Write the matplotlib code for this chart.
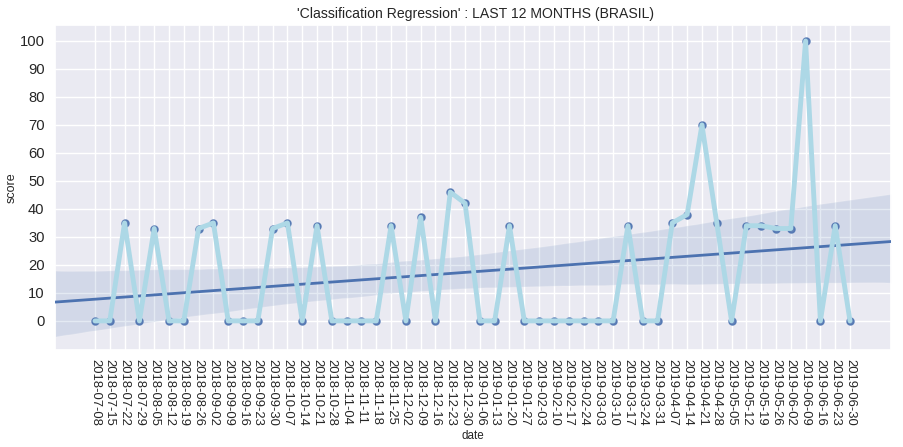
import matplotlib
matplotlib.use("Agg")
import matplotlib.pyplot as plt
import numpy as np
import pandas as pd
import seaborn as sns

dates = pd.date_range("2018-07-08", "2019-06-30", freq="7D").strftime("%Y-%m-%d").tolist()
scores = [0, 0, 35, 0, 33, 0, 0, 33, 35, 0, 0, 0, 33, 35, 0, 34, 0, 0, 0, 0, 34, 0, 37, 0,
          46, 42, 0, 0, 34, 0, 0, 0, 0, 0, 0, 0, 34, 0, 0, 35, 38, 70, 35, 0, 34, 34, 33, 33,
          100, 0, 34, 0]
yticks = list(range(0, 101, 10))

sns.set_theme(style="darkgrid")
plt.rcParams["font.family"] = ["Liberation Sans", "DejaVu Sans"]

positions = np.arange(len(dates))
fig = plt.figure(figsize=(9.04, 4.47), dpi=100, facecolor="white")
ax = fig.add_axes([55 / 904, 1 - 350 / 447, (891 - 55) / 904, (350 - 25) / 447])
ax.set_xlim(-2.7, 53.77)
ax.set_ylim(-10.4, 105.7)

sns.regplot(x=positions, y=np.array(scores, dtype=float), ax=ax, truncate=False, seed=3,
            color="#4c72b0", scatter_kws={"s": 26, "alpha": 0.85, "zorder": 2},
            line_kws={"lw": 2.0, "zorder": 3})
ax.plot(positions, scores, color="lightblue", lw=3.5, zorder=4)

ax.set_xlim(-2.7, 53.77)
ax.set_ylim(-10.4, 105.7)
ax.set_xticks(positions)
ax.set_xticklabels(dates, rotation=270, fontsize=9.4, color="#262626")
ax.set_yticks(yticks)
ax.tick_params(axis="y", labelsize=10.6, labelcolor="#262626", pad=1.5)
ax.tick_params(axis="x", pad=0.5)
ax.set_xlabel("date", fontsize=8.4, color="#262626", labelpad=3)
ax.set_ylabel("score", fontsize=9, color="#262626", labelpad=1.5)
ax.set_title("'Classification Regression' : LAST 12 MONTHS (BRASIL)", fontsize=10.1,
             color="#262626", pad=5, x=0.503)
fig.savefig("out.png", dpi=100, facecolor="white")
